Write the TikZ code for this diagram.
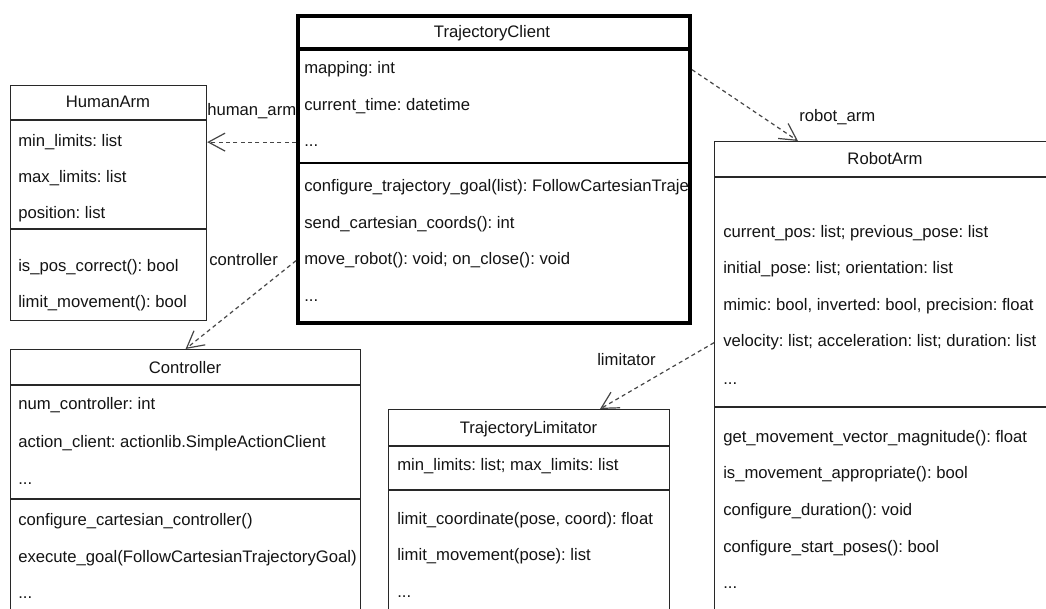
\documentclass[tikz,border=0pt]{standalone}
\usepackage{fontspec}
\setmainfont{Liberation Sans}
\usetikzlibrary{arrows.meta, positioning}
\definecolor{colLine}{RGB}{40,40,40}
\definecolor{colText}{RGB}{20,20,20}
\definecolor{colDash}{RGB}{70,70,70}
\frenchspacing
\tikzset{
  classBox/.style={
    rectangle, draw=colLine, line width=0.9pt,
    anchor=north west, inner sep=0pt
  },
  mainBox/.style={
    classBox, draw=black, line width=3pt
  },
  classRow/.style={
    anchor=base west, inner sep=0pt, text=colText,
    font=\fontsize{12.5}{15}\selectfont
  },
  classTitle/.style={
    classRow, anchor=base
  },
  roleLabel/.style={
    classRow
  },
  sepLine/.style={
    draw=colLine, line width=0.9pt
  },
  depArrow/.style={
    draw=colDash, line width=0.9pt, dash pattern=on 3pt off 2.5pt,
    -{Straight Barb[length=12.5pt, width=13.5pt, line width=0.9pt]}
  }
}

\begin{document}
\begin{tikzpicture}[x=0.75pt, y=-0.75pt]

\fill[white] (0,0) rectangle (1046,609);
\useasboundingbox (0,0) rectangle (1046,609);
\clip (0,0) rectangle (1046,609);

%% ==============================================================
%% HumanArm
%% ==============================================================
\node[classBox, minimum width=147pt, minimum height=176.25pt] (humanArm) at (10,85) {};
\draw[sepLine] (humanArm.north west) ++(0,35) -- ++(196,0);
\draw[sepLine] (humanArm.north west) ++(0,144) -- ++(196,0);
\node[classTitle] (haName) at (108,108) {HumanArm};
\node[classRow] (haAttr1) at (18,146.5) {min\_limits: list};
\node[classRow] (haAttr2) at (18,182.5) {max\_limits: list};
\node[classRow] (haAttr3) at (18,218.5) {position: list};
\node[classRow] (haOp1) at (18,272) {is\_pos\_correct(): bool};
\node[classRow] (haOp2) at (18,307.5) {limit\_movement(): bool};

%% ==============================================================
%% TrajectoryClient (main class, thick border)
%% ==============================================================
\node[mainBox, minimum width=294pt, minimum height=230.25pt] (trajClient) at (296,14.5) {};
\begin{scope}
  \clip (trajClient.north west) rectangle ([xshift=-3pt]trajClient.south east);
  \node[classTitle] (tcName) at (492,38) {TrajectoryClient};
  \node[classRow] (tcAttr1) at (304,74) {mapping: int};
  \node[classRow] (tcAttr2) at (304,110.5) {current\_time: datetime};
  \node[classRow] (tcAttr3) at (304,147) {...};
  \node[classRow] (tcOp1) at (304,192) {configure\_trajectory\_goal(list): FollowCartesianTrajectoryGoal};
  \node[classRow] (tcOp2) at (304,228.5) {send\_cartesian\_coords(): int};
  \node[classRow] (tcOp3) at (304,265) {move\_robot(): void; on\_close(): void};
  \node[classRow] (tcOp4) at (304,302) {...};
\end{scope}
\draw[mainBox] (trajClient.north west) ++(0,34.5) -- ++(392,0);
\draw[sepLine, draw=black, line width=1.5pt] (trajClient.north west) ++(0,148.5) -- ++(392,0);

%% ==============================================================
%% RobotArm
%% ==============================================================
\node[classBox, minimum width=256.5pt, minimum height=419.25pt] (robotArm) at (714,141) {};
\draw[sepLine] (robotArm.north west) ++(0,36) -- ++(342,0);
\draw[sepLine] (robotArm.north west) ++(0,266) -- ++(342,0);
\node[classTitle] (raName) at (885,165) {RobotArm};
\node[classRow] (raAttr1) at (723,238) {current\_pos: list; previous\_pose: list};
\node[classRow] (raAttr2) at (723,274) {initial\_pose: list; orientation: list};
\node[classRow] (raAttr3) at (723,311) {mimic: bool, inverted: bool, precision: float};
\node[classRow] (raAttr4) at (723,347) {velocity: list; acceleration: list; duration: list};
\node[classRow] (raAttr5) at (723,385) {...};
\node[classRow] (raOp1) at (723,443) {get\_movement\_vector\_magnitude(): float};
\node[classRow] (raOp2) at (723,478.5) {is\_movement\_appropriate(): bool};
\node[classRow] (raOp3) at (723,515) {configure\_duration(): void};
\node[classRow] (raOp4) at (723,552) {configure\_start\_poses(): bool};
\node[classRow] (raOp5) at (723,588) {...};

%% ==============================================================
%% Controller
%% ==============================================================
\node[classBox, minimum width=262.5pt, minimum height=225.75pt] (controller) at (10,349) {};
\draw[sepLine] (controller.north west) ++(0,36) -- ++(350,0);
\draw[sepLine] (controller.north west) ++(0,150) -- ++(350,0);
\begin{scope}
  \clip (controller.north west) rectangle ([xshift=-0.9pt]controller.south east);
  \node[classTitle] (ctlName) at (185,374) {Controller};
  \node[classRow] (ctlAttr1) at (18,410) {num\_controller: int};
  \node[classRow] (ctlAttr2) at (18,447) {action\_client: actionlib.SimpleActionClient};
  \node[classRow] (ctlAttr3) at (18,484) {...};
  \node[classRow] (ctlOp1) at (18,525) {configure\_cartesian\_controller()};
  \node[classRow] (ctlOp2) at (18,562) {execute\_goal(FollowCartesianTrajectoryGoal)};
  \node[classRow] (ctlOp3) at (18,598) {...};
\end{scope}

%% ==============================================================
%% TrajectoryLimitator
%% ==============================================================
\node[classBox, minimum width=210.75pt, minimum height=188.25pt] (trajLimit) at (388,409) {};
\draw[sepLine] (trajLimit.north west) ++(0,37) -- ++(281,0);
\draw[sepLine] (trajLimit.north west) ++(0,81) -- ++(281,0);
\node[classTitle] (tlName) at (528.5,434) {TrajectoryLimitator};
\node[classRow] (tlAttr1) at (397,470) {min\_limits: list; max\_limits: list};
\node[classRow] (tlOp1) at (397,524) {limit\_coordinate(pose, coord): float};
\node[classRow] (tlOp2) at (397,560) {limit\_movement(pose): list};
\node[classRow] (tlOp3) at (397,597) {...};

%% ==============================================================
%%  ARROWS
%% ==============================================================
\draw[depArrow] (trajClient.west |- haAttr1.west) -- (humanArm.east |- haAttr1.west);
\draw[depArrow] (trajClient.west |- tcOp3.west) -- (controller.north);
\draw[depArrow] (trajClient.east |- tcAttr1.west) -- ([xshift=63pt]robotArm.north west);
\draw[depArrow] (robotArm.west |- raAttr4.west) -- ([xshift=159pt]trajLimit.north west);

% role names
\node[roleLabel] (lblHuman) at (207,116) {human\_arm};
\node[roleLabel] (lblCtl) at (209,266) {controller};
\node[roleLabel] (lblRobot) at (799,122) {robot\_arm};
\node[roleLabel] (lblLimit) at (597,366) {limitator};

\end{tikzpicture}
\end{document}
